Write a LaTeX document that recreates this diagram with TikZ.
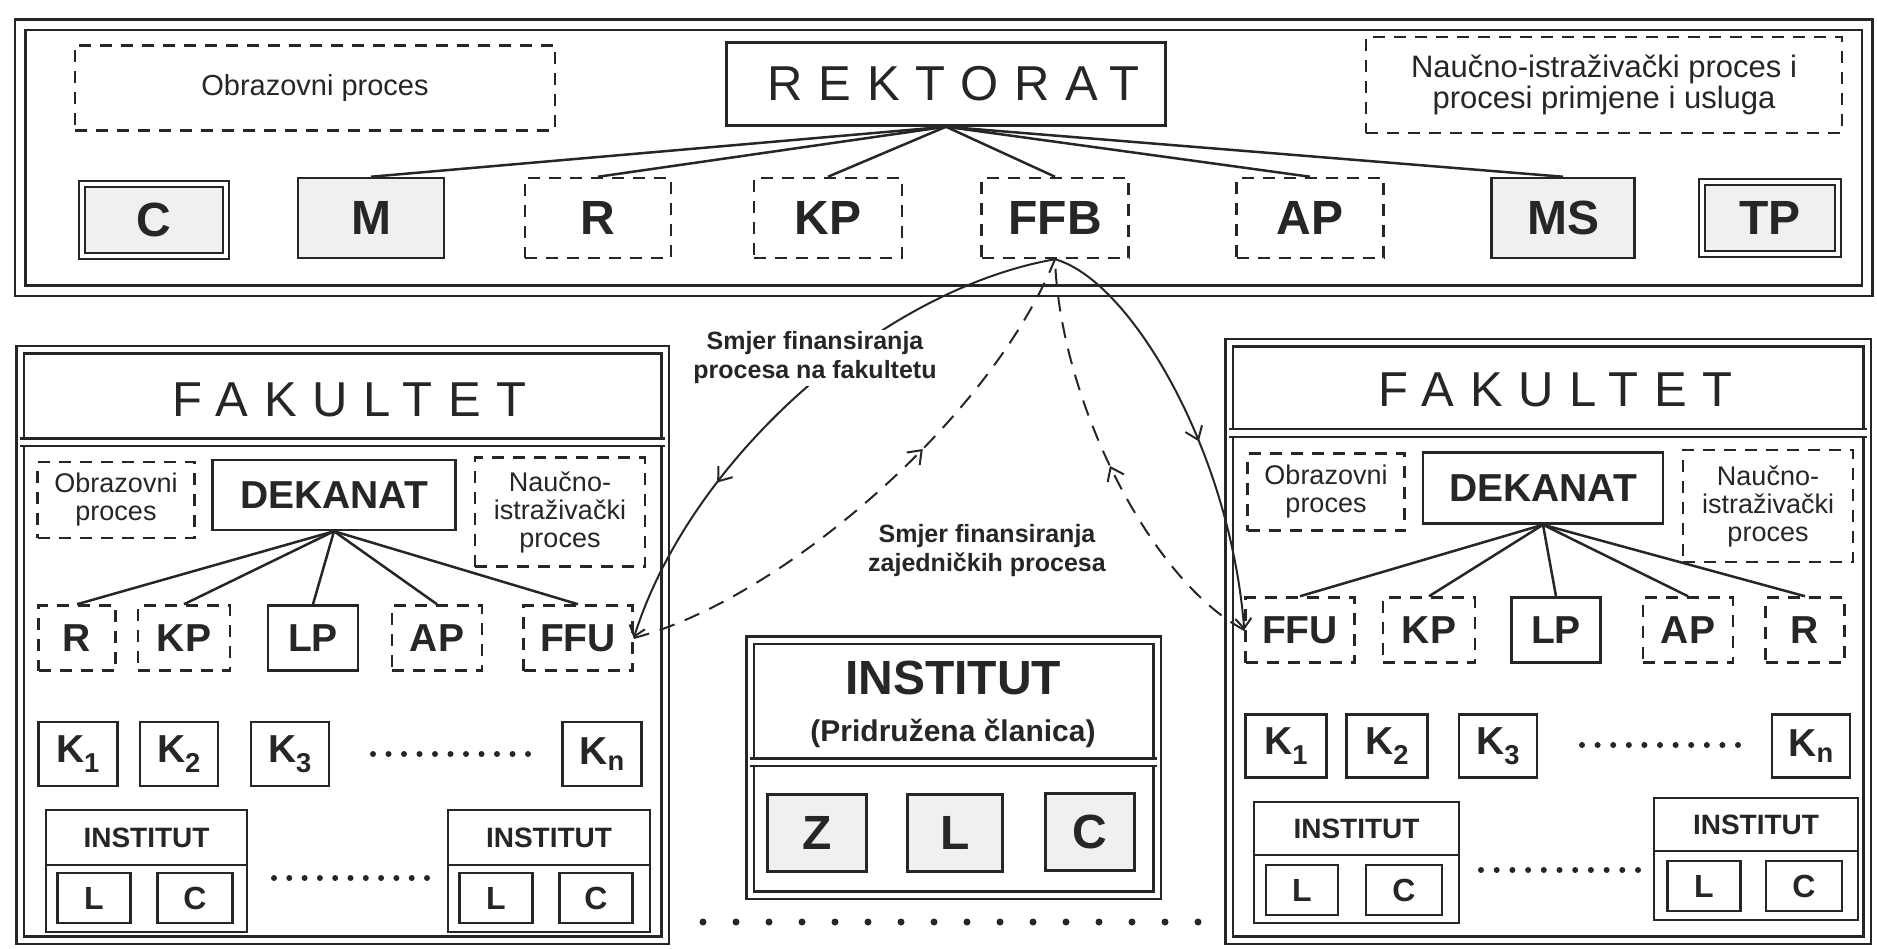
\documentclass[tikz,border=0pt]{standalone}
\usepackage{fontspec}
\setmainfont{Liberation Sans}
\newfontfamily\widefont[LetterSpace=32]{Liberation Sans}
\usetikzlibrary{arrows.meta,decorations.markings}

\tikzset{
  box/.style={draw, line width=2.5pt, inner sep=0pt, align=center},
  dbox/.style={box, dash pattern=on 12pt off 9pt},
  gbox/.style={box, fill=black!6},
  twin/.style={double, double distance=4pt, line width=2pt},
  frame/.style={draw, double, line width=2.5pt, double distance=#1},
  headtxt/.style={font=\widefont\fontsize{49}{50}\selectfont},
  bigtxt/.style={font=\bfseries\fontsize{48}{50}\selectfont},
  rowtxt/.style={font=\bfseries\fontsize{39}{42}\selectfont},
  insttxt/.style={font=\bfseries\fontsize{28}{30}\selectfont},
  lctxt/.style={font=\bfseries\fontsize{32}{34}\selectfont},
  notetxt/.style={font=\fontsize{27}{28}\selectfont},
  dektxt/.style={font=\bfseries\fontsize{39}{42}\selectfont},
  flowtxt/.style={font=\bfseries\fontsize{25}{29}\selectfont, align=center},
  flow/.style={line width=2pt, -{Straight Barb[length=10pt,width=16pt]}},
  flowd/.style={line width=2pt, dash pattern=on 16pt off 11pt},
  midarrow/.style={postaction={decorate, decoration={markings,
      mark=at position #1 with {\arrow{Straight Barb[length=12pt,width=18pt,line width=2pt]}}}}},
}

\begin{document}
\begin{tikzpicture}[x=1pt, y=-1pt, line width=2.5pt, black!85]
\useasboundingbox (0,0) rectangle (1877,949);
% Rektorat
    \draw[frame=8pt] (20,25) rectangle (1867,291);
    \node[dbox, font=\fontsize{29}{31}\selectfont, minimum width=480pt, minimum height=85pt] (obrT) at (315,88) {Obrazovni proces};
    \node[box, headtxt, minimum width=439pt, minimum height=83pt] (rekt) at (946,84) {\kern0.32em REKTORAT};
    \node[dbox, font=\fontsize{31}{31}\selectfont, minimum width=476pt, minimum height=96pt] (naucT) at (1604,85) {Naučno-istraživački proces i\\procesi primjene i usluga};
    \node[gbox, twin, bigtxt, minimum width=144pt, minimum height=72pt] (cT) at (154,220) {C};
    \node[gbox, bigtxt, minimum width=146pt, minimum height=80pt] (mT) at (371,218) {M};
    \node[dbox, bigtxt, minimum width=146pt, minimum height=80pt] (rT) at (598,218) {R};
    \node[dbox, bigtxt, minimum width=148pt, minimum height=80pt] (kpT) at (828,218) {KP};
    \node[dbox, bigtxt, minimum width=147pt, minimum height=80pt] (ffb) at (1055,218) {FFB};
    \node[dbox, bigtxt, minimum width=147pt, minimum height=80pt] (apT) at (1310,218) {AP};
    \node[gbox, bigtxt, minimum width=143pt, minimum height=80pt] (msT) at (1563,218) {MS};
    \node[gbox, twin, bigtxt, minimum width=136pt, minimum height=72pt] (tpT) at (1770,218) {TP};
    \foreach \n in {mT,rT,kpT,ffb,apT,msT}
        \draw (rekt.south) -- (\n.north);
% Fakultet (left)
    \draw[frame=5pt] (20,350) rectangle (665,940);
    \draw[frame=5pt] (20,442) -- (665,442);
    \node[headtxt] (fakL) at (342,400) {\kern0.32em FAKULTET};
    \node[dbox, notetxt, minimum width=157pt, minimum height=76pt] (obrL) at (116,500) {Obrazovni\\proces};
    \node[box, dektxt, minimum width=243pt, minimum height=70pt] (dekL) at (334,495) {DEKANAT};
    \node[dbox, notetxt, minimum width=170pt, minimum height=109pt] (naucL) at (560,512) {Naučno-\\istraživački\\proces};
    \node[dbox, rowtxt, minimum width=77pt, minimum height=65pt] (rL) at (77,638) {R};
    \node[dbox, rowtxt, minimum width=92pt, minimum height=65pt] (kpL) at (184,638) {KP};
    \node[box, rowtxt, minimum width=90pt, minimum height=65pt] (lpL) at (313,638) {LP};
    \node[dbox, rowtxt, minimum width=90pt, minimum height=65pt] (apL) at (437,638) {AP};
    \node[dbox, rowtxt, minimum width=109pt, minimum height=65pt] (ffuL) at (578,638) {FFU};
    \foreach \n in {rL,kpL,lpL,apL,ffuL}
        \draw (dekL.south) -- (\n.north);
    \node[box, rowtxt, minimum width=79pt, minimum height=64pt] (k1L) at (78,754) {K\textsubscript{1}};
    \node[box, rowtxt, minimum width=78pt, minimum height=64pt] (k2L) at (179,754) {K\textsubscript{2}};
    \node[box, rowtxt, minimum width=78pt, minimum height=64pt] (k3L) at (290,754) {K\textsubscript{3}};
    \node[box, rowtxt, minimum width=79pt, minimum height=64pt] (knL) at (602,754) {K\textsubscript{n}};
    \foreach \i in {0,...,10}
        \fill (373+15.5*\i,754) circle (3);
    \node[box, insttxt, minimum width=201pt, minimum height=55pt] (iL1) at (146.5,837.5) {INSTITUT};
    \draw (46,865) rectangle (247,932);
    \node[box, lctxt, minimum width=73pt, minimum height=50pt] (iL1l) at (94,898) {L};
    \node[box, lctxt, minimum width=75pt, minimum height=50pt] (iL1c) at (195,898) {C};
    \foreach \i in {0,...,10}
        \fill (274+15.3*\i,878) circle (3);
    \node[box, insttxt, minimum width=202pt, minimum height=55pt] (iL2) at (549,837.5) {INSTITUT};
    \draw (448,865) rectangle (650,932);
    \node[box, lctxt, minimum width=73pt, minimum height=50pt] (iL2l) at (496,898) {L};
    \node[box, lctxt, minimum width=73pt, minimum height=50pt] (iL2c) at (596,898) {C};
% Fakultet (right)
    \draw[frame=5pt] (1229,343) rectangle (1867,940);
    \draw[frame=5pt] (1229,433) -- (1867,433);
    \node[headtxt] (fakR) at (1548,390) {\kern0.32em FAKULTET};
    \node[dbox, notetxt, minimum width=157pt, minimum height=77pt] (obrR) at (1326,492) {Obrazovni\\proces};
    \node[box, dektxt, minimum width=240pt, minimum height=71pt] (dekR) at (1543,488) {DEKANAT};
    \node[dbox, notetxt, minimum width=170pt, minimum height=112pt] (naucR) at (1768,506) {Naučno-\\istraživački\\proces};
    \node[dbox, rowtxt, minimum width=109pt, minimum height=65pt] (ffuR) at (1300,630) {FFU};
    \node[dbox, rowtxt, minimum width=92pt, minimum height=65pt] (kpR) at (1429,630) {KP};
    \node[box, rowtxt, minimum width=89pt, minimum height=65pt] (lpR) at (1556,630) {LP};
    \node[dbox, rowtxt, minimum width=90pt, minimum height=65pt] (apR) at (1688,630) {AP};
    \node[dbox, rowtxt, minimum width=79pt, minimum height=65pt] (rR) at (1805,630) {R};
    \foreach \n in {ffuR,kpR,lpR,apR,rR}
        \draw (dekR.south) -- (\n.north);
    \node[box, rowtxt, minimum width=81pt, minimum height=63pt] (k1R) at (1286,746) {K\textsubscript{1}};
    \node[box, rowtxt, minimum width=81pt, minimum height=63pt] (k2R) at (1387,746) {K\textsubscript{2}};
    \node[box, rowtxt, minimum width=78pt, minimum height=63pt] (k3R) at (1498,746) {K\textsubscript{3}};
    \node[box, rowtxt, minimum width=78pt, minimum height=63pt] (knR) at (1811,746) {K\textsubscript{n}};
    \foreach \i in {0,...,10}
        \fill (1582+15.6*\i,745) circle (3);
    \node[box, insttxt, minimum width=205pt, minimum height=53pt] (iR1) at (1356.5,828.5) {INSTITUT};
    \draw (1254,855) rectangle (1459,923);
    \node[box, lctxt, minimum width=72pt, minimum height=50pt] (iR1l) at (1302,890) {L};
    \node[box, lctxt, minimum width=76pt, minimum height=50pt] (iR1c) at (1404,890) {C};
    \foreach \i in {0,...,10}
        \fill (1481+15.7*\i,870) circle (3);
    \node[box, insttxt, minimum width=204pt, minimum height=53pt] (iR2) at (1756,824.5) {INSTITUT};
    \draw (1654,851) rectangle (1858,920);
    \node[box, lctxt, minimum width=73pt, minimum height=50pt] (iR2l) at (1704,886) {L};
    \node[box, lctxt, minimum width=76pt, minimum height=50pt] (iR2c) at (1804,886) {C};
% Institut (member)
    \draw[frame=5pt] (750,640) rectangle (1157,895);
    \draw[frame=5pt] (750,762) -- (1157,762);
    \node[bigtxt] (instC) at (953,678) {INSTITUT};
    \node[font=\bfseries\fontsize{30}{32}\selectfont] (instSub) at (953,733) {(Pridružena članica)};
    \node[gbox, bigtxt, minimum width=99pt, minimum height=77pt] (zC) at (817,833) {Z};
    \node[gbox, bigtxt, minimum width=95pt, minimum height=77pt] (lC) at (955,833) {L};
    \node[gbox, bigtxt, minimum width=89pt, minimum height=77pt] (cC) at (1090,832) {C};
    \foreach \i in {0,...,15}
        \fill (703+33*\i,922) circle (3.5);
% Financing flows
    \draw[flow, midarrow=0.7] (ffb.south) .. controls (880,290) and (690,460) .. (ffuL.east);
    \draw[flowd, midarrow=0.6] (ffuL.east) .. controls (780,600) and (990,420) .. (ffb.south);
    \draw[flow, midarrow=0.55] (ffb.south) .. controls (1130,280) and (1230,450) .. (ffuR.west);
    \draw[flowd, midarrow=0.5] (ffuR.west) .. controls (1150,580) and (1060,400) .. (ffb.south);
    \node[flowtxt, fill=white, inner sep=2pt] (lblFak) at (815,358) {Smjer finansiranja\\procesa na fakultetu};
    \node[flowtxt] (lblZaj) at (987,551) {Smjer finansiranja\\zajedničkih procesa};
\end{tikzpicture}
\end{document}
